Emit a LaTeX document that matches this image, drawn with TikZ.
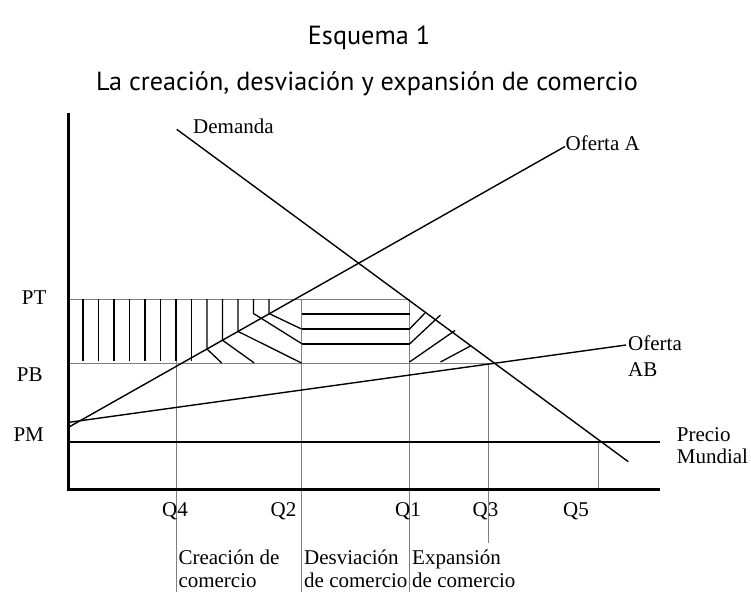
\documentclass[tikz,border=0pt]{standalone}
\usepackage{fontspec}
\setmainfont{Liberation Serif}
\newfontfamily\titlefont{PT Sans}
\begin{document}
\begin{tikzpicture}[x=1pt,y=-1pt,
  axis/.style={line width=3pt},
  curve/.style={line width=1.4pt},
  guide/.style={line width=0.9pt, black!50},
  hatch/.style={line width=1.3pt},
  lbl/.style={font=\fontsize{21}{24}\selectfont, inner sep=0pt},
  ttl/.style={font=\titlefont\fontsize{26.2}{30}\selectfont, inner sep=0pt},
]
\useasboundingbox (0,0) rectangle (751,592);

% title
\node[ttl, anchor=base] (t1) at (369,44) {Esquema 1};
\node[ttl, anchor=base] (t2) at (367,90) {La creación, desviación y expansión de comercio};

% guide lines (gray)
\draw[guide] (68,299) -- (409.5,299);
\draw[guide] (68,363) -- (488,363);
\draw[guide] (176.5,361) -- (176.5,592);
\draw[guide] (301.5,299) -- (301.5,592);
\draw[guide] (409.5,299) -- (409.5,592);
\draw[guide] (488,363) -- (488,543);
\draw[guide] (598,442) -- (598,489);

% vertical hatching
\foreach \i in {0,...,7}{
  \draw[hatch] ({83+15.5*\i},299) -- ({83+15.5*\i},361);
}
\draw[hatch] (207,299) -- (207,349) -- (221.7,363);
\draw[hatch] (222.5,299) -- (222.5,340.2) -- (254.3,363);
\draw[hatch] (238,299) -- (238,331.4) -- (301.5,363);
\draw[hatch] (253.5,299) -- (253.5,313.5) -- (301.5,343.5);
\draw[hatch] (269,299) -- (269,313.5) -- (301.5,329);

% middle horizontals
\draw[hatch] (301.5,314) -- (409.5,314);
\draw[hatch] (301.5,329) -- (409.5,329);
\draw[hatch] (301.5,344) -- (409.5,344);

% right diagonals
\draw[hatch] (409.5,329) -- (425,313);
\draw[hatch] (409.5,344) -- (440.5,315);
\draw[hatch] (409.5,362) -- (455,330.5);
\draw[hatch] (440.5,362) -- (470.5,346);

% curves
\coordinate (dA) at (176.7,129.3);
\coordinate (dB) at (628.3,461.7);
\draw[curve] (dA) -- (dB);
\coordinate (oA1) at (69,427);
\coordinate (oA2) at (565,146.5);
\draw[curve] (oA1) -- (oA2);
\coordinate (oB1) at (69,422.3);
\coordinate (oB2) at (626,345);
\draw[curve] (oB1) -- (oB2);
\coordinate (pm1) at (68,442);
\coordinate (pm2) at (660,442);
\draw[curve] (pm1) -- (pm2);

% axes
\draw[axis] (68,113) -- (68,489) -- (660,489);

% labels
\node[lbl, anchor=base west] (lPT) at (21.7,304) {PT};
\node[lbl, anchor=base west] (lPB) at (16.7,381.7) {PB};
\node[lbl, anchor=base west] (lPM) at (13.3,441.7) {PM};

\node[lbl, anchor=base] (q4) at (175,516.5) {Q4};
\node[lbl, anchor=base] (q2) at (283.5,516.5) {Q2};
\node[lbl, anchor=base] (q1) at (408,516.5) {Q1};
\node[lbl, anchor=base] (q3) at (485.5,516.5) {Q3};
\node[lbl, anchor=base] (q5) at (576,516.5) {Q5};

\node[lbl, anchor=base west] (dem) at (193,133.3) {Demanda};
\node[lbl, anchor=base west] (ofA) at (565.5,150) {Oferta A};
\node[lbl, anchor=base west] (ofAB1) at (628,350) {Oferta};
\node[lbl, anchor=base west] (ofAB2) at (628,376) {AB};
\node[lbl, anchor=base west] (pre1) at (676.7,441.7) {Precio};
\node[lbl, anchor=base west] (pre2) at (676.7,463.5) {Mundial};

\node[lbl, anchor=base west] (c1) at (178.3,564) {Creación de};
\node[lbl, anchor=base west] (c2) at (178.3,587) {comercio};
\node[lbl, anchor=base west] (d1) at (304,564) {Desviación};
\node[lbl, anchor=base west] (d2) at (304,587) {de comercio};
\node[lbl, anchor=base west] (e1) at (412,564) {Expansión};
\node[lbl, anchor=base west] (e2) at (412,587) {de comercio};
\end{tikzpicture}
\end{document}
